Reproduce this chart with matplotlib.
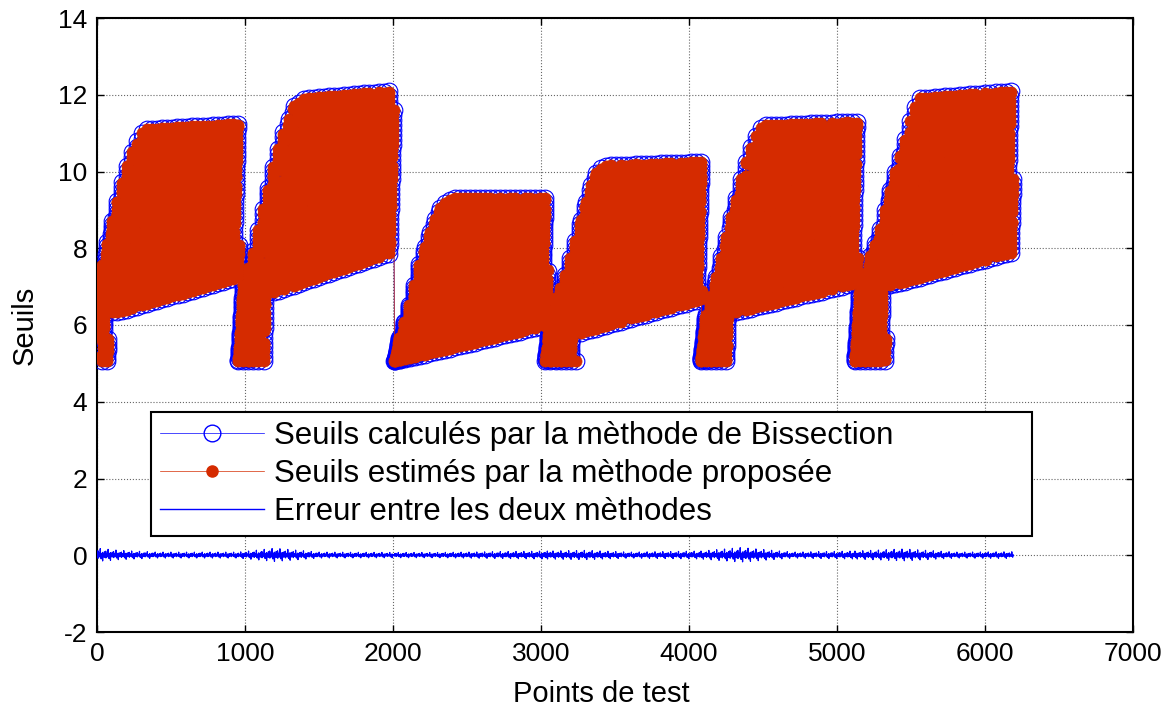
import numpy as np
import matplotlib
matplotlib.use('Agg')
import matplotlib.pyplot as plt
from matplotlib.lines import Line2D

plt.rcParams['font.family'] = ['Liberation Sans', 'DejaVu Sans']
plt.rcParams['axes.unicode_minus'] = False

# ---------------- data ----------------
# each block: groups of test points sweeping from a lower to an upper threshold
block_start = [0, 955, 2010, 3030, 4080, 5120]
block_end = [960, 2005, 3045, 4087, 5140, 6190]
tail_start = [10, 955, 2010, 3030, 4080, 5115]
tail_end = [75, 1150, 2010, 3235, 4280, 5330]
tail_level = 5.05
group_size = 34

upper_x = [
    [0, 41, 88, 156, 223, 291, 340, 960],
    [955, 967, 1055, 1123, 1190, 1258, 1326, 1400, 2005],
    [2010, 2050, 2118, 2185, 2253, 2320, 2400, 3045],
    [3020, 3085, 3153, 3220, 3288, 3356, 3420, 4087],
    [4080, 4100, 4168, 4235, 4303, 4371, 4438, 4500, 5140],
    [5120, 5210, 5298, 5365, 5433, 5500, 5550, 6190],
]
upper_y = [
    [7.0, 7.75, 8.5, 9.55, 10.4, 10.95, 11.1, 11.25],
    [6.6, 6.8, 7.9, 9.0, 10.1, 11.0, 11.7, 11.9, 12.1],
    [5.3, 5.75, 6.6, 7.7, 8.5, 9.1, 9.3, 9.3],
    [5.75, 6.6, 7.15, 8.0, 9.05, 9.9, 10.15, 10.25],
    [5.9, 6.1, 7.05, 8.1, 9.1, 10.1, 10.85, 11.2, 11.3],
    [6.45, 7.67, 8.6, 9.65, 10.5, 11.4, 11.9, 12.1],
]
lower_x = [
    [0, 160, 960],
    [955, 1190, 2005],
    [2010, 2185, 3045],
    [3030, 3268, 4087],
    [4080, 4317, 5140],
    [5120, 5365, 6190],
]
lower_y = [
    [6.3, 6.35, 7.25],
    [6.85, 6.85, 7.9],
    [5.05, 5.2, 6.0],
    [5.8, 5.8, 6.67],
    [6.33, 6.33, 7.1],
    [7.03, 7.03, 7.9],
]

# error between both methods: amplitude along the test points and spike pattern
err_amp_x = [0, 150, 400, 955, 1200, 1500, 2010, 2300, 3030, 3300, 3600, 4080, 4350, 4700, 5120, 5450, 5800, 6190]
err_amp_y = [0.2, 0.14, 0.09, 0.09, 0.2, 0.09, 0.08, 0.08, 0.12, 0.14, 0.09, 0.12, 0.22, 0.09, 0.12, 0.18, 0.09, 0.1]
err_pattern = [0.0, 0.2, 0.0, -0.1, 0.0, 0.0, 0.6, -0.4, 0.0, 0.0, 0.1, 0.0, 0.0, -0.2, 0.3,
               0.0, 0.0, 0.0, 0.1, -0.1, 0.0, 0.0, 0.9, -0.3, 0.0, 0.0, 0.1, 0.0, -0.5, 0.2,
               0.0, 0.0, 0.0, 0.15, 0.0, -0.1, 0.0, 0.4, -0.8, 0.3, 0.0, 0.0, 0.1, 0.0, -0.15,
               0.0, 0.2, 0.0, 0.0, -0.3, 0.5, 0.0, 0.0]

x_ticks = [0, 1000, 2000, 3000, 4000, 5000, 6000, 7000]
y_ticks = [-2, 0, 2, 4, 6, 8, 10, 12, 14]

labels = ['Seuils calculés par la mèthode de Bissection',
          'Seuils estimés par la mèthode proposée',
          'Erreur entre les deux mèthodes']

# ---------------- build series ----------------
xs, ys, los, ups = [], [], [], []
for b in range(len(block_start)):
    pts = np.arange(block_start[b], block_end[b])
    up = np.interp(pts, upper_x[b], upper_y[b])
    lo = np.interp(pts, lower_x[b], lower_y[b])
    in_tail = (pts >= tail_start[b]) & (pts < tail_end[b])
    lo = np.where(in_tail, tail_level, lo)
    up = np.maximum(up, lo)
    j = (np.arange(len(pts)) % group_size) / (group_size - 1)
    xs.append(pts)
    ys.append(lo + (up - lo) * j)
    los.append(lo)
    ups.append(up)
x_all = np.concatenate(xs)
bis = np.concatenate(ys)
lo_all = np.concatenate(los)
up_all = np.concatenate(ups)
amp = np.interp(x_all, err_amp_x, err_amp_y)
pat = np.array(err_pattern)[np.arange(len(x_all)) % len(err_pattern)]
err = amp * pat
est = np.clip(bis - err, lo_all, up_all)

# ---------------- plot ----------------
fig = plt.figure(figsize=(11.73, 7.06), dpi=100)
ax = fig.add_axes([97 / 1173, 74 / 706, 1036 / 1173, 614 / 706])

blue = '#0000FF'
red = '#D52B00'
ax.plot(x_all, bis, color=blue, lw=0.5, marker='o', ms=12, mfc='none', mec=blue, mew=0.8, zorder=3)
ax.plot(x_all, est, color=red, lw=0.5, marker='o', ms=8, mfc=red, mec=red, mew=0.5, zorder=4)
ax.plot(x_all, err, color=blue, lw=0.9, zorder=5)

ax.set_xlim(0, 7000)
ax.set_ylim(-2, 14)
ax.set_xticks(x_ticks)
ax.set_yticks(y_ticks)
ax.tick_params(direction='in', length=5, width=1, top=True, right=True, labelsize=19, pad=7)
ax.grid(True, ls=':', color='#666666', lw=0.8)
for s in ax.spines.values():
    s.set_linewidth(1.5)
    s.set_color('black')
ax.set_xlabel('Points de test', fontsize=21)
ax.xaxis.set_label_coords(0.4865, -0.078)
ax.set_ylabel('Seuils', fontsize=21, labelpad=14)

h1 = Line2D([], [], color=blue, lw=0.5, marker='o', ms=12, mfc='none', mec=blue, mew=1)
h2 = Line2D([], [], color=red, lw=0.5, marker='o', ms=8, mfc=red, mec=red)
h3 = Line2D([], [], color=blue, lw=1)
leg = ax.legend([h1, h2, h3], labels, loc='upper left',
                bbox_to_anchor=(54 / 1036, 1 - (412 - 18) / 614 - 0.2, 881 / 1036, 0.2),
                mode='expand', borderaxespad=0, fontsize=22.5, numpoints=1,
                handlelength=3.3, handletextpad=0.35, borderpad=0.3, labelspacing=0.25,
                fancybox=False, framealpha=1, edgecolor='black')
leg.get_frame().set_linewidth(1.5)
leg.set_zorder(10)

fig.savefig('out.png', dpi=100)
